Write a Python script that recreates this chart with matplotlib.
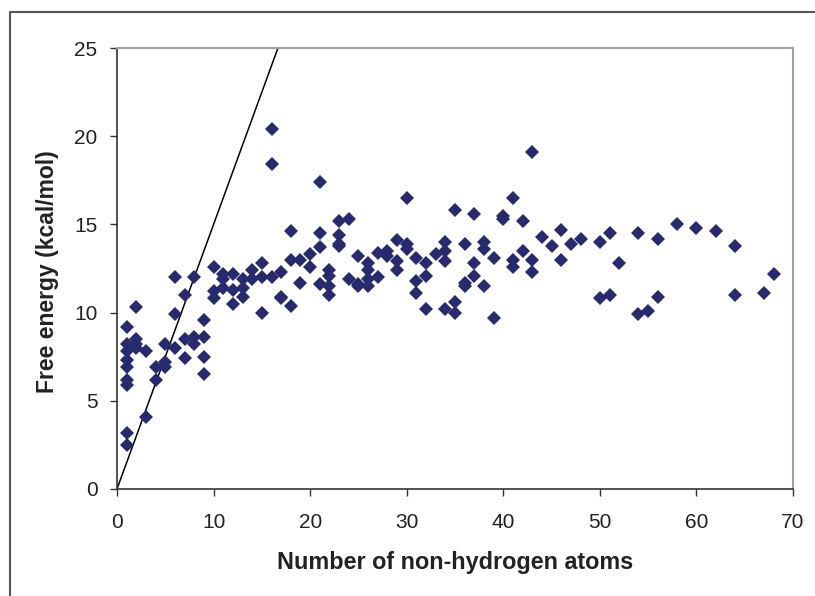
import matplotlib
matplotlib.use("Agg")
import matplotlib.pyplot as plt
from matplotlib.lines import Line2D

plt.rcParams['font.family'] = ['Liberation Sans', 'DejaVu Sans']

# Number of non-hydrogen atoms (heavy atoms) per ligand
heavy_atoms = [
    1, 1, 1, 1, 1, 1, 1, 1, 1,
    2, 2, 2, 2,
    3, 3,
    4, 4,
    5, 5, 5,
    6, 6, 6,
    7, 7, 7,
    8, 8, 8,
    9, 9, 9, 9,
    10, 10, 10,
    11, 11, 11,
    12, 12, 12,
    13, 13, 13,
    14, 14,
    15, 15, 15,
    16, 16, 16,
    17, 17, 17,
    18, 18, 18,
    19, 19,
    20, 20,
    21, 21, 21, 21,
    22, 22, 22, 22,
    23, 23, 23, 23,
    24, 24,
    25, 25, 25,
    26, 26, 26, 26,
    27, 27,
    28, 28,
    29, 29, 29,
    30, 30, 30,
    31, 31, 31,
    32, 32, 32,
    33,
    34, 34, 34, 34,
    35, 35, 35,
    36, 36, 36,
    37, 37, 37,
    38, 38, 38,
    39, 39,
    40, 40,
    41, 41, 41,
    42, 42,
    43, 43, 43,
    44,
    45,
    46, 46,
    47,
    48,
    50, 50,
    51, 51,
    52,
    54, 54,
    55,
    56, 56,
    58,
    60,
    62,
    64, 64,
    67,
    68,
]

# Binding free energy (kcal/mol)
free_energy = [
    9.2, 8.2, 7.85, 7.3, 6.9, 6.2, 5.9, 3.2, 2.5,
    10.3, 8.5, 8.2, 8.0,
    7.8, 4.1,
    6.9, 6.2,
    8.2, 7.2, 6.9,
    12.0, 9.9, 8.0,
    11.0, 8.5, 7.4,
    12.0, 8.6, 8.2,
    9.6, 8.6, 7.5, 6.5,
    12.6, 11.2, 10.8,
    12.2, 11.9, 11.4,
    12.2, 11.3, 10.5,
    11.9, 11.4, 10.9,
    12.4, 11.9,
    12.8, 12.0, 10.0,
    20.4, 18.4, 12.0,
    12.3, 10.9, 10.8,
    14.6, 13.0, 10.4,
    13.0, 11.7,
    13.3, 12.6,
    17.4, 14.5, 13.7, 11.6,
    12.4, 12.1, 11.5, 11.0,
    15.2, 14.4, 13.9, 13.8,
    15.3, 11.9,
    13.2, 11.6, 11.5,
    12.8, 12.4, 11.9, 11.5,
    13.4, 12.0,
    13.5, 13.2,
    14.1, 12.9, 12.4,
    16.5, 13.9, 13.6,
    13.1, 11.8, 11.1,
    12.8, 12.1, 10.2,
    13.3,
    14.0, 13.5, 12.9, 10.2,
    15.8, 10.6, 10.0,
    13.9, 11.7, 11.5,
    15.6, 12.8, 12.1,
    14.0, 13.6, 11.5,
    13.1, 9.7,
    15.5, 15.3,
    16.5, 13.0, 12.6,
    15.2, 13.5,
    19.1, 13.0, 12.3,
    14.3,
    13.8,
    14.7, 13.0,
    13.9,
    14.2,
    14.0, 10.8,
    14.5, 11.0,
    12.8,
    14.5, 9.9,
    10.1,
    14.2, 10.9,
    15.0,
    14.8,
    14.6,
    13.8, 11.0,
    11.1,
    12.2,
]

# Maximal affinity per heavy atom (kcal/mol per atom)
max_slope = 1.5
line_x = [0, 25 / max_slope]

fig = plt.figure(figsize=(8.15, 5.96), dpi=100)
ax = fig.add_axes([117 / 815, 1 - 489 / 596, (793 - 117) / 815, (489 - 48) / 596])

ax.plot(line_x, [max_slope * v for v in line_x], color='black', lw=1.1, zorder=2)
ax.plot(heavy_atoms, free_energy, linestyle='none', marker='D', ms=7.4,
        color='#272a6e', markeredgewidth=0, zorder=3)

ax.set_xlim(0, 70)
ax.set_ylim(0, 25)
ax.set_xticks(range(0, 71, 10))
ax.set_yticks(range(0, 26, 5))

for side in ('left', 'bottom'):
    ax.spines[side].set_color('#333333')
    ax.spines[side].set_linewidth(1.2)
for side in ('top', 'right'):
    ax.spines[side].set_color('#a0a0a0')
    ax.spines[side].set_linewidth(1.5)

ax.tick_params(axis='both', direction='out', length=5, width=1.0, color='#333333',
               labelsize=15, labelcolor='#222222')
ax.tick_params(axis='x', pad=12)
ax.tick_params(axis='y', pad=9)

ax.set_xlabel('Number of non-hydrogen atoms', fontsize=16.8, fontweight='bold',
              color='#222222')
ax.set_ylabel('Free energy (kcal/mol)', fontsize=16.5, fontweight='bold',
              color='#222222')
ax.xaxis.set_label_coords(0.5, -(562 - 489) / 441)
ax.yaxis.set_label_coords(-(117 - 48) / 676, (489 - 272) / 441)
ax.xaxis.label.set_va('center')
ax.yaxis.label.set_va('center')

# Outer frame along the left and top of the figure
frame_x = 9.5 / 815
frame_y = 1 - 11.5 / 596
fig.add_artist(Line2D([frame_x, frame_x, 1.0], [0.0, frame_y, frame_y],
                      transform=fig.transFigure, color='#555555', lw=1.5))

fig.savefig('out.png', dpi=100)
